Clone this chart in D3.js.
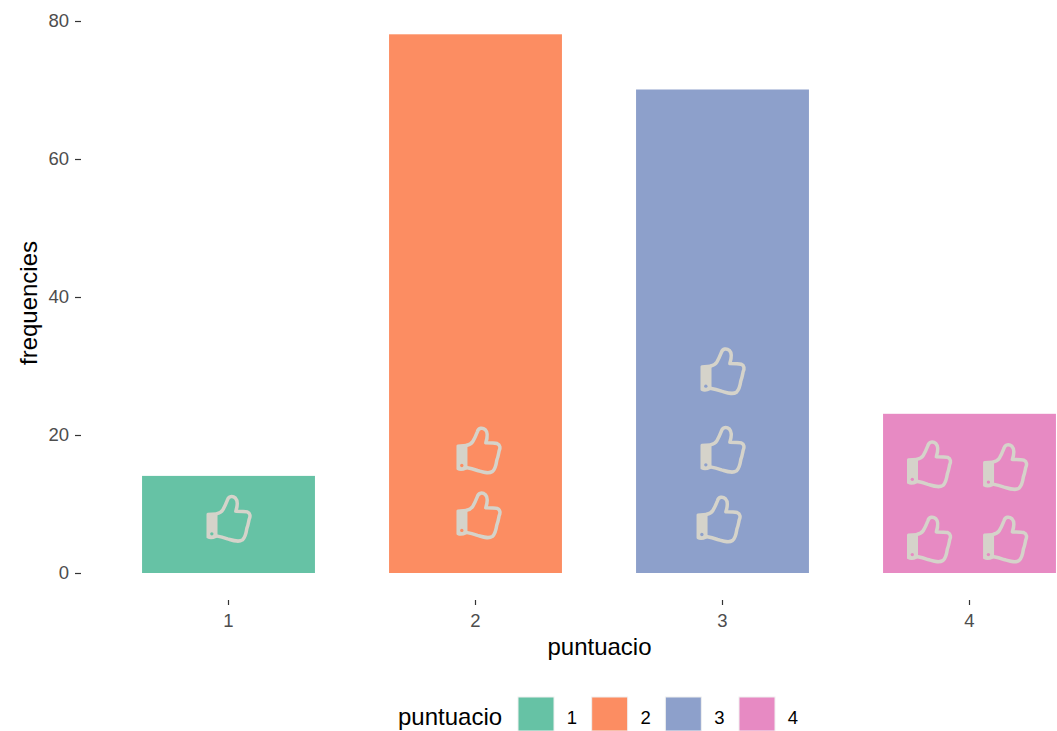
<!DOCTYPE html>
<html><head><meta charset="utf-8">
<script src="https://cdn.jsdelivr.net/npm/d3@7"></script>
<style>html,body{margin:0;padding:0;background:#fff}svg{display:block}text{font-family:"Liberation Sans",Arial,sans-serif}</style>
</head><body><div id="chart"></div>
<script>
const categories = ["1","2","3","4"];
const frequencies = [14,78,70,23];
const colors = ["#66c2a5","#fc8d62","#8da0cb","#e78ac3"];
const yTicks = [0,20,40,60,80];
const iconCategory = ["1","2","2","3","3","3","4","4","4","4"];
const iconOffset = [0,0.012,0.012,-0.016,0,0,-0.164,0.144,-0.164,0.144];
const iconValue = [7.8,8.3,17.7,7.7,17.8,29.2,15.7,15.3,4.8,4.8];

const W=1057,H=731;
const svg=d3.select("#chart").append("svg").attr("width",W).attr("height",H);
const x=d3.scaleBand().domain(categories).range([105,1093]).paddingInner(0.3).paddingOuter(0.15);
const y=d3.scaleLinear().domain([0,80]).range([573,21]);
const cx=c=>x(c)+x.bandwidth()/2;

svg.selectAll("rect.bar").data(categories).join("rect").attr("class","bar")
 .attr("x",d=>x(d)).attr("width",x.bandwidth())
 .attr("y",(d,i)=>y(frequencies[i])-0.5).attr("height",(d,i)=>y(0)-y(frequencies[i])+0.5)
 .attr("fill",(d,i)=>colors[i]);

const thumbOutline="M-37,-16 C-28,-18 -22,-20 -17,-28 C-11,-38 -7,-48 -3,-58 C0,-69 12,-71 21,-63 C29,-55 27,-40 22,-24 C35,-24 48,-24 56,-22 C66,-18 66,-8 62,0 C60,10 59,18 55,28 C53,42 50,55 42,62 C30,70 15,64 -3,59 C-15,55 -27,52 -37,50";
const thumbCuff="M-62,-15 L-37,-17 L-37,52 C-45,56 -55,58 -62,54 Z";
const icons=svg.selectAll("g.icon").data(iconValue).join("g").attr("class","icon")
 .attr("transform",(v,i)=>`translate(${cx(iconCategory[i])+iconOffset[i]*247},${y(v)}) scale(0.3333)`);
icons.append("path").attr("d",thumbOutline).attr("fill","none").attr("stroke","#d5d3ca").attr("stroke-width",10.5).attr("stroke-linejoin","round");
icons.append("path").attr("d",thumbCuff).attr("fill","#d5d3ca").attr("stroke","#d5d3ca").attr("stroke-width",8).attr("stroke-linejoin","round");
icons.append("circle").attr("cx",-50).attr("cy",44).attr("r",5).attr("fill",(v,i)=>colors[categories.indexOf(iconCategory[i])]);

const yAxis=d3.axisLeft(y).tickValues(yTicks).tickSize(6).tickPadding(6);
const gy=svg.append("g").attr("transform","translate(81,0)").call(yAxis);
const xAxis=d3.axisBottom(x).tickSize(5).tickPadding(9);
const gx=svg.append("g").attr("transform","translate(0,600)").call(xAxis);
[gx,gy].forEach(g=>{g.select(".domain").remove();
 g.selectAll(".tick line").attr("stroke","#333").attr("stroke-width",1.2);
 g.selectAll(".tick text").attr("fill","#4d4d4d").attr("font-size",18.5).attr("font-family",'"Liberation Sans",Arial,sans-serif');});

svg.append("text").attr("x",599.5).attr("y",655).attr("text-anchor","middle").attr("font-size",24).attr("fill","#000").text("puntuacio");
svg.append("text").attr("transform","translate(37,303) rotate(-90)").attr("text-anchor","middle").attr("font-size",24).attr("fill","#000").text("frequencies");

svg.append("text").attr("x",398).attr("y",725).attr("font-size",24).attr("fill","#000").text("puntuacio");
const keyX=d3.scalePoint().domain(categories).range([518,739]);
const lg=svg.selectAll("g.key").data(categories).join("g").attr("class","key").attr("transform",d=>`translate(${keyX(d)},697)`);
lg.append("rect").attr("width",36).attr("height",34).attr("fill",(d,i)=>colors[i]).attr("stroke","#f0f0f0").attr("stroke-width",1);
lg.append("text").attr("x",54).attr("y",27).attr("text-anchor","middle").attr("font-size",18.5).attr("fill","#000").text(d=>d);
</script></body></html>
